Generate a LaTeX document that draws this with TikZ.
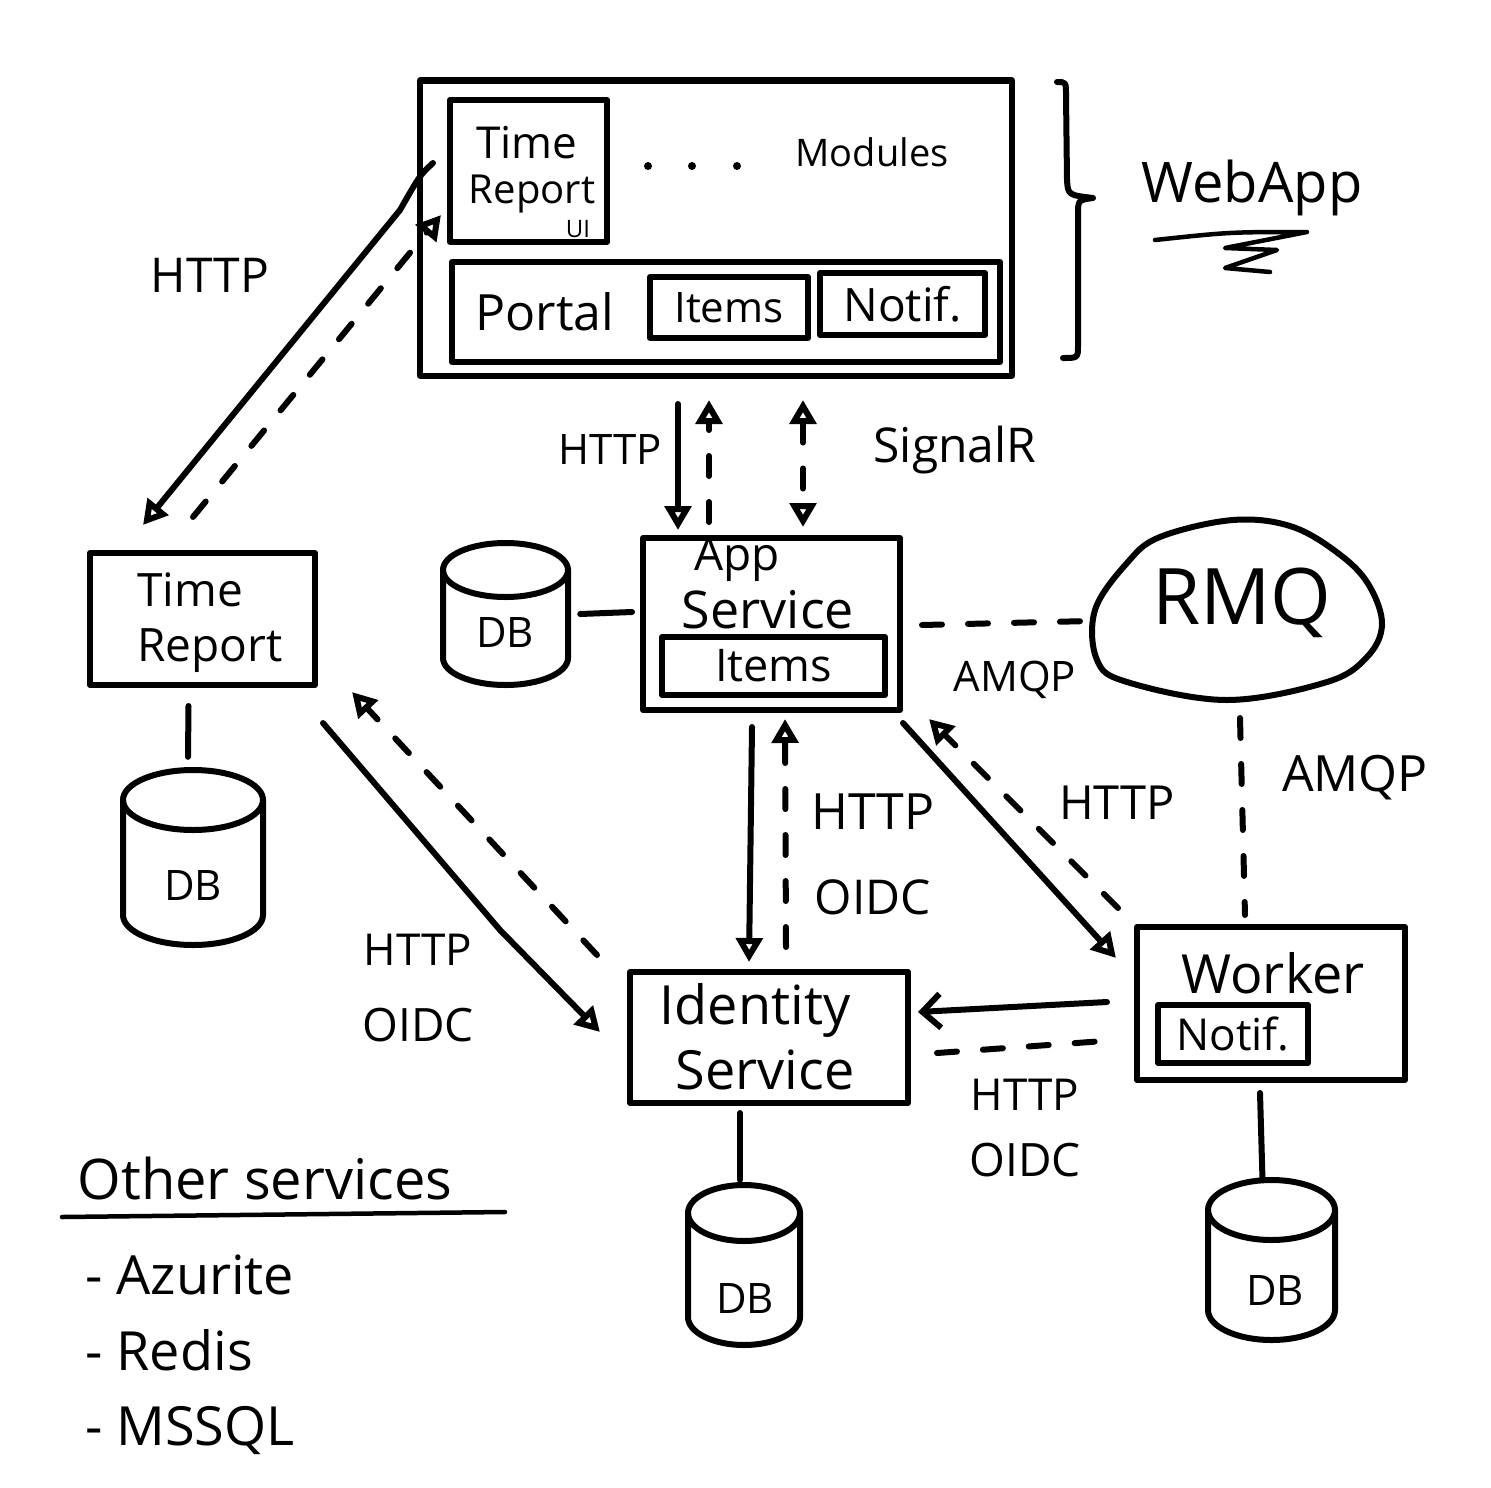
\documentclass[tikz,border=0pt]{standalone}
\usepackage{fontspec}
\setmainfont{Open Sans}
\usetikzlibrary{arrows.meta}
\tikzset{
  ln/.style={line width=6pt, line cap=round, line join=round},
  box/.style={ln, draw, inner sep=0pt},
  dsh/.style={ln, dash pattern=on 20pt off 26pt},
  fs/.style={font=\fontsize{#1pt}{#1pt}\selectfont, inner sep=0pt},
  tri/.style={-{Triangle[open,length=24pt,width=26pt]}},
  tritri/.style={{Triangle[open,length=24pt,width=26pt]}-{Triangle[open,length=24pt,width=26pt]}},
  barb/.style={-{Straight Barb[length=18pt,width=34pt]}},
}
\newcommand\dbcyl[6]{% name, cx, top, width, bottom, ry
  \node[minimum width=#4, minimum height=#5-#3, inner sep=0pt] (#1) at (#2,{(#3+#5)/2}) {};
  \draw[ln] (#2,#3+#6) ellipse[x radius=#4/2, y radius=#6];
  \draw[ln] (#2-#4/2,#3+#6) -- (#2-#4/2,#5-#6) arc[start angle=180, end angle=0, x radius=#4/2, y radius=#6] -- (#2+#4/2,#3+#6);
}
\begin{document}
\begin{tikzpicture}[x=1pt,y=-1pt]
\useasboundingbox (0,0) rectangle (1491,1488);
\fill[white] (0,0) rectangle (1491,1488);

% ---------- WebApp ----------
\node[box, minimum width=592, minimum height=295] (web) at (716,228) {};
\node[box, minimum width=157, minimum height=142] (trui) at (528.5,171) {};
\node[fs=44] (truiA) at (527,143) {Time};
\node[fs=40] (truiB) at (532,194) {Report};
\node[fs=24] (truiC) at (578,229) {UI};
\fill (648,166) circle[radius=4] (692,166) circle[radius=4] (737,166) circle[radius=4];
\node[fs=38] (modules) at (872,152) {Modules};
\node[box, minimum width=548, minimum height=100] (portal) at (726,312) {};
\node[fs=50] (portalt) at (545,312) {Portal};
\node[box, minimum width=158, minimum height=61, fs=42] (items1) at (729,307.5) {Items};
\node[box, minimum width=165, minimum height=62, fs=46] (notif1) at (902.5,304) {Notif.};

% brace + WebApp label
\draw[ln] (1057,82) .. controls (1066,82) .. (1066,95) -- (1067,180)
  .. controls (1068,195) .. (1093,198) .. controls (1078,200) .. (1078,215)
  -- (1078,345) .. controls (1078,358) .. (1063,358);
\node[fs=56] (webapp) at (1252,188) {WebApp};
\draw[ln, line width=4.5pt] (1155,240) .. controls (1230,232) .. (1307,232)
  -- (1225,248) -- (1277,250) -- (1225,268) -- (1270,272);

% ---------- Time Report ----------
\node[box, minimum width=225, minimum height=132] (tr) at (202.5,619) {};
\node[fs=46] (trA) at (190,590) {Time};
\node[fs=46] (trB) at (210,651) {Report};
\dbcyl{dbtr}{193}{770}{140}{945}{30}
\node[fs=42] (dbtrt) at (193,885) {DB};

% ---------- App Service ----------
\node[box, minimum width=257, minimum height=172] (app) at (771.5,624) {};
\node[fs=46] (appA) at (737,560) {App};
\node[fs=52] (appB) at (768,610) {Service};
\node[box, minimum width=223, minimum height=58, fs=45] (items2) at (773.5,666) {Items};
\dbcyl{dbapp}{505.5}{543}{125}{685}{27}
\node[fs=42] (dbappt) at (505,633) {DB};

% ---------- RMQ ----------
\draw[ln] plot[smooth cycle, tension=0.6] coordinates {(1233,520) (1293,527) (1343,557) (1370,587) (1382,625) (1367,657) (1327,682) (1227,700) (1127,682) (1097,660) (1095,610) (1127,563) (1160,537)};
\node[fs=78] (rmq) at (1242,603) {RMQ};

% ---------- Worker ----------
\node[box, minimum width=268, minimum height=153] (worker) at (1271,1003.5) {};
\node[fs=54] (workert) at (1273,973) {Worker};
\node[box, minimum width=150, minimum height=58, fs=44] (notif2) at (1233,1034) {Notif.};
\dbcyl{dbwk}{1271.5}{1180}{127}{1340}{30}
\node[fs=42] (dbwkt) at (1275,1290) {DB};

% ---------- Identity ----------
\node[box, minimum width=278, minimum height=131] (ids) at (769,1037.5) {};
\node[fs=54] (idsA) at (755,1010) {Identity};
\node[fs=54] (idsB) at (765,1070) {Service};
\dbcyl{dbid}{744}{1185}{112}{1345}{28}
\node[fs=42] (dbidt) at (745,1298) {DB};

% ---------- connector end points ----------
\coordinate (c1a) at (433,163);  \coordinate (c1m) at (400,210); \coordinate (c1b) at (143,525);
\coordinate (c2a) at (193,517);  \coordinate (c2b) at (441,215);
\coordinate (c3a) at (678,404);  \coordinate (c3b) at (678,530);
\coordinate (c4a) at (709,522);  \coordinate (c4b) at (709,400);
\coordinate (c5a) at (803,400);  \coordinate (c5b) at (803,527);
\coordinate (c6a) at (752,727);  \coordinate (c6b) at (749,962);
\coordinate (c7a) at (786,947);  \coordinate (c7b) at (785,719);
\coordinate (c8a) at (903,723);  \coordinate (c8b) at (1116,958);
\coordinate (c9a) at (1118,908); \coordinate (c9b) at (929,719);
\coordinate (c10a) at (1107,1002); \coordinate (c10b) at (918,1012);
\coordinate (c11a) at (937,1053); \coordinate (c11b) at (1118,1040);
\coordinate (c12a) at (323,723); \coordinate (c12m) at (500,930); \coordinate (c12b) at (600,1032);
\coordinate (c13a) at (597,955); \coordinate (c13b) at (352,692);
\coordinate (c14a) at (922,625); \coordinate (c14b) at (1090,621);
\coordinate (c15a) at (1240,718); \coordinate (c15b) at (1245,915);

% ---------- connectors ----------
\draw[ln, tri] (c1a) .. controls (420,175) .. (c1m) -- (c1b);
\draw[dsh, tri] (c2a) -- (c2b);
\draw[ln, tri] (c3a) -- (c3b);
\draw[dsh, tri] (c4a) -- (c4b);
\draw[dsh, tritri] (c5a) -- (c5b);
\draw[ln, tri] (c6a) -- (c6b);
\draw[dsh, tri] (c7a) -- (c7b);
\draw[ln, tri] (c8a) -- (c8b);
\draw[dsh, tri] (c9a) -- (c9b);
\draw[ln, barb] (c10a) -- (c10b);
\draw[dsh] (c11a) -- (c11b);
\draw[ln, tri] (c12a) -- (c12m) -- (c12b);
\draw[dsh, tri] (c13a) -- (c13b);
\draw[dsh] (c14a) -- (c14b);
\draw[dsh] (c15a) -- (c15b);
% DB links
\draw[ln] ([xshift=-14pt,yshift=-18pt]tr.south) -- ([xshift=-5pt,yshift=13pt]dbtr.north);
\draw[ln] ([xshift=12pt,yshift=0pt]dbapp.east) -- ([xshift=-8pt,yshift=12pt]app.west);
\draw[ln] ([xshift=-29pt,yshift=-7pt]ids.south) -- ([xshift=-4pt,yshift=5pt]dbid.north);
\draw[ln] ([xshift=-11pt,yshift=-10pt]worker.south) -- ([xshift=-9pt,yshift=0pt]dbwk.north);

% ---------- labels ----------
\node[fs=48] (l1) at (210,275) {HTTP};
\node[fs=42] (l2) at (610,450) {HTTP};
\node[fs=48] (l3) at (955,450) {SignalR};
\node[fs=42] (l4) at (1015,680) {AMQP};
\node[fs=50] (l5) at (873,812) {HTTP};
\node[fs=48] (l6) at (873,897) {OIDC};
\node[fs=47] (l7) at (1117,803) {HTTP};
\node[fs=50] (l8) at (1355,778) {AMQP};
\node[fs=44] (l9) at (418,950) {HTTP};
\node[fs=46] (l10) at (418,1025) {OIDC};
\node[fs=44] (l11) at (1025,1095) {HTTP};
\node[fs=46] (l12) at (1025,1160) {OIDC};

% ---------- legend ----------
\node[fs=56] (other) at (265,1178) {Other services};
\draw[ln, line width=4.5pt] (62,1217) -- (505,1212);
\node[fs=54, anchor=west] (az) at (85,1275) {- Azurite};
\node[fs=54, anchor=west] (rd) at (85,1350) {- Redis};
\node[fs=54, anchor=west] (ms) at (85,1430) {- MSSQL};
\end{tikzpicture}
\end{document}
